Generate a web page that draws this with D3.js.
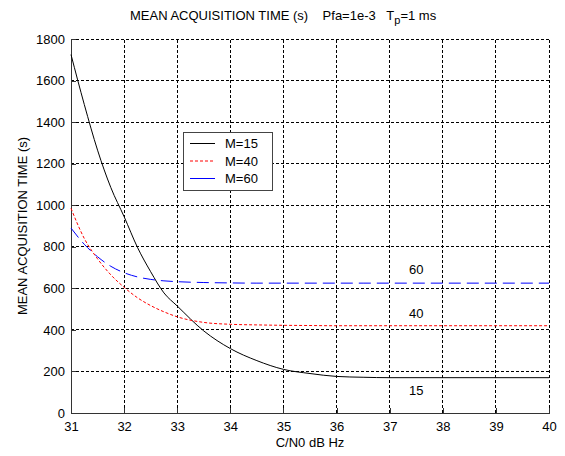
<!DOCTYPE html>
<html>
<head>
<meta charset="utf-8">
<script src="https://cdn.jsdelivr.net/npm/d3@7"></script>
<style>
  body { margin: 0; background: #fff; }
  text { font-family: Arial, "Liberation Sans", sans-serif; fill: #000; }
</style>
</head>
<body>
<div id="chart"></div>
<script>
var cn0 = [31, 31.25, 31.5, 31.75, 32, 32.25, 32.5, 32.75, 33, 33.5, 34, 34.5, 35, 35.5, 36, 36.5, 37, 38, 39, 40];

// mean acquisition time (s) for each M
var m15 = [1725, 1485, 1265, 1085, 945, 798, 680, 578, 515, 395, 310, 252, 210, 190, 176, 172, 170, 170, 170, 170];
var m40 = [985, 840, 742, 665, 605, 555, 517, 487, 463, 436, 427, 424, 422, 421, 420, 420, 420, 420, 420, 420];
var m60 = [890, 812, 752, 706, 675, 655, 643, 636, 632, 628, 626, 625, 625, 625, 625, 625, 625, 625, 625, 625];

var xTicks = [31, 32, 33, 34, 35, 36, 37, 38, 39, 40];
var yTicks = [0, 200, 400, 600, 800, 1000, 1200, 1400, 1600, 1800];

var series = [
    { name: "M=15", label: "15", values: m15, color: "#000000", dash: null, lx: 37.5, ly: 395 },
    { name: "M=40", label: "40", values: m40, color: "#ff0000", dash: "3,2", lx: 37.5, ly: 318 },
    { name: "M=60", label: "60", values: m60, color: "#0000ff", dash: "12,6", lx: 37.5, ly: 274 }
];

var width = 565,
    height = 456,
    margin = { top: 39, right: 16, bottom: 43, left: 71 };

var svg = d3.select("#chart").append("svg")
    .attr("width", width)
    .attr("height", height);

var x = d3.scaleLinear()
    .domain([31, 40])
    .range([margin.left, width - margin.right]);

var y = d3.scaleLinear()
    .domain([0, 1800])
    .range([height - margin.bottom, margin.top]);

// dotted grid, MATLAB style (also forms the top and right edges)
svg.append("g").selectAll("line")
    .data(xTicks.slice(1))
    .enter().append("line")
    .attr("x1", function(d) { return x(d); })
    .attr("x2", function(d) { return x(d); })
    .attr("y1", y(0))
    .attr("y2", y(1800))
    .attr("stroke", "#000")
    .attr("stroke-dasharray", "3,2")
    .attr("shape-rendering", "crispEdges");

svg.append("g").selectAll("line")
    .data(yTicks.slice(1))
    .enter().append("line")
    .attr("x1", x(31))
    .attr("x2", x(40))
    .attr("y1", function(d) { return y(d); })
    .attr("y2", function(d) { return y(d); })
    .attr("stroke", "#000")
    .attr("stroke-dasharray", "3,2")
    .attr("shape-rendering", "crispEdges");

// axes with inward ticks
var xAxis = svg.append("g")
    .attr("transform", "translate(0," + y(0) + ")")
    .call(d3.axisBottom(x).tickValues(xTicks).tickFormat(d3.format("d")).tickSizeInner(-5).tickSizeOuter(0).tickPadding(9));

var yAxis = svg.append("g")
    .attr("transform", "translate(" + x(31) + ",0)")
    .call(d3.axisLeft(y).tickValues(yTicks).tickFormat(d3.format("d")).tickSizeInner(-5).tickSizeOuter(0).tickPadding(6));

[xAxis, yAxis].forEach(function(g) {
    g.select(".domain").attr("stroke", "#333").attr("shape-rendering", "crispEdges");
    g.selectAll(".tick line").attr("stroke", "#333").attr("shape-rendering", "crispEdges");
    g.selectAll("text").style("font-size", "13px").style("font-family", "Arial, 'Liberation Sans', sans-serif");
});

// curves
var line = d3.line()
    .x(function(d, i) { return x(cn0[i]); })
    .y(function(d) { return y(d); })
    .curve(d3.curveMonotoneX);

series.forEach(function(s) {
    svg.append("path")
        .datum(s.values)
        .attr("d", line)
        .attr("fill", "none")
        .attr("stroke", s.color)
        .attr("stroke-width", 1)
        .attr("stroke-dasharray", s.dash);

    svg.append("text")
        .attr("x", x(s.lx))
        .attr("y", s.ly)
        .attr("text-anchor", "middle")
        .style("font-size", "13px")
        .text(s.label);
});

// legend
var legend = svg.append("g").attr("transform", "translate(183,132)");
legend.append("rect")
    .attr("width", 89)
    .attr("height", 58)
    .attr("fill", "#fff")
    .attr("stroke", "#444")
    .attr("shape-rendering", "crispEdges");

series.forEach(function(s, i) {
    var ly = 11.5 + i * 17.5;
    legend.append("line")
        .attr("x1", 7).attr("x2", 32)
        .attr("y1", ly).attr("y2", ly)
        .attr("stroke", s.color)
        .attr("stroke-dasharray", s.color === "#ff0000" ? "3,2" : null);
    legend.append("text")
        .attr("x", 42)
        .attr("y", ly + 4.5)
        .style("font-size", "13px")
        .text(s.name);
});

// titles
var title = svg.append("text")
    .attr("x", 130)
    .attr("y", 20)
    .style("font-size", "13px")
    .attr("xml:space", "preserve");
title.append("tspan").text("MEAN ACQUISITION TIME (s)    Pfa=1e-3   T");
title.append("tspan").attr("dy", 4).style("font-size", "11px").text("p");
title.append("tspan").attr("dy", -4).text("=1 ms");

svg.append("text")
    .attr("x", (x(31) + x(40)) / 2)
    .attr("y", 447)
    .attr("text-anchor", "middle")
    .style("font-size", "13px")
    .text("C/N0 dB Hz");

svg.append("text")
    .attr("transform", "translate(27," + (y(900)) + ")rotate(-90)")
    .attr("text-anchor", "middle")
    .style("font-size", "13px")
    .text("MEAN ACQUISITION TIME (s)");
</script>
</body>
</html>
